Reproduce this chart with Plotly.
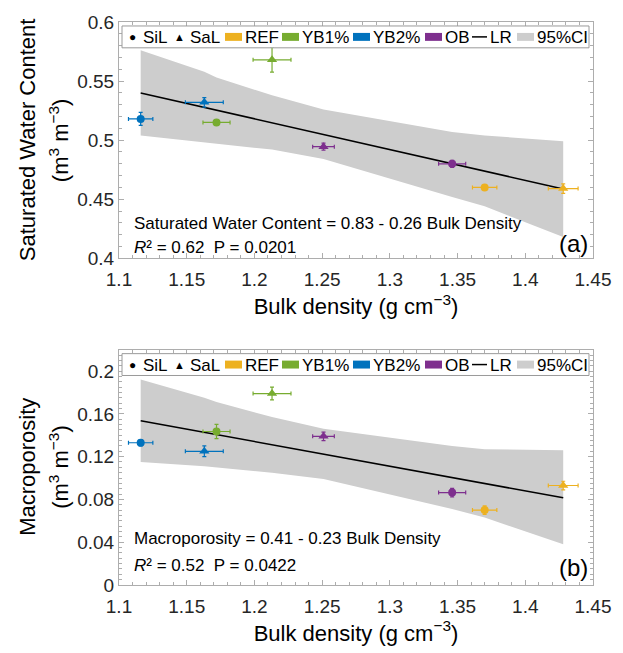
import plotly.graph_objects as go

# ---------------- data ----------------
treatments = ["REF", "YB1%", "YB2%", "OB"]
colors = ["#EDB120", "#77AC30", "#0072BD", "#7E2F8E"]

bd_sil = [1.370, 1.172, 1.116, 1.346]
bd_sil_err = [0.009, 0.010, 0.009, 0.010]
bd_sal = [1.428, 1.213, 1.163, 1.251]
bd_sal_err = [0.011, 0.014, 0.014, 0.008]

swc_sil = [0.460, 0.515, 0.518, 0.480]
swc_sil_err = [0.002, 0.0025, 0.0055, 0.003]
swc_sal = [0.459, 0.568, 0.532, 0.4945]
swc_sal_err = [0.004, 0.0105, 0.004, 0.003]

mac_sil = [0.070, 0.1435, 0.133, 0.0864]
mac_sil_err = [0.004, 0.0066, 0.003, 0.004]
mac_sal = [0.093, 0.179, 0.125, 0.139]
mac_sal_err = [0.004, 0.006, 0.005, 0.004]

lr_x = [1.116, 1.428]
lr_swc = [0.540, 0.4587]
lr_mac = [0.1535, 0.0815]

band_x = [1.116, 1.163, 1.172, 1.213, 1.251, 1.346, 1.370, 1.428]
swc_upper = [0.576, 0.558, 0.553, 0.538, 0.526, 0.507, 0.504, 0.499]
swc_lower = [0.504, 0.498, 0.497, 0.492, 0.484, 0.452, 0.444, 0.418]
mac_upper = [0.192, 0.175, 0.171, 0.157, 0.146, 0.130, 0.127, 0.126]
mac_lower = [0.115, 0.111, 0.110, 0.105, 0.099, 0.071, 0.063, 0.038]

x_ticks = [1.1, 1.15, 1.2, 1.25, 1.3, 1.35, 1.4, 1.45]
x_ticktext = ["1.1", "1.15", "1.2", "1.25", "1.3", "1.35", "1.4", "1.45"]
swc_ticks = [0.4, 0.45, 0.5, 0.55, 0.6]
swc_ticktext = ["0.4", "0.45", "0.5", "0.55", "0.6"]
mac_ticks = [0, 0.04, 0.08, 0.12, 0.16, 0.2]
mac_ticktext = ["0", "0.04", "0.08", "0.12", "0.16", "0.2"]

# ---------------- layout geometry ----------------
W, H = 623, 653
L, R, T, B = 119, 30, 19, 67
PW, PH = W - L - R, H - T - B
FONT = "Liberation Sans, Arial, Helvetica, sans-serif"
BAND = "#CDCDCD"
AXC = "#ADADAD"


def px(x):
    return (x - L) / PW


def py(y):
    return (H - B - y) / PH


top_dom = [py(257), py(19)]
bot_dom = [py(586), py(349)]

fig = go.Figure()


def add_panel(xa, ya, yv_sil, ye_sil, yv_sal, ye_sal, lr_y, up, lo):
    fig.add_trace(go.Scatter(
        x=band_x + band_x[::-1], y=up + lo[::-1], fill="toself",
        fillcolor=BAND, line=dict(width=0), mode="lines",
        xaxis=xa, yaxis=ya, showlegend=False, hoverinfo="skip"))
    fig.add_trace(go.Scatter(
        x=lr_x, y=lr_y, mode="lines", line=dict(color="black", width=1.5),
        xaxis=xa, yaxis=ya, showlegend=False))
    for i, t in enumerate(treatments):
        for xv, xe, yv, ye, sym in [
            (bd_sil, bd_sil_err, yv_sil, ye_sil, "circle"),
            (bd_sal, bd_sal_err, yv_sal, ye_sal, "triangle-up"),
        ]:
            fig.add_trace(go.Scatter(
                x=[xv[i]], y=[yv[i]], mode="markers",
                marker=dict(symbol=sym, size=8 if sym == "circle" else 9,
                            color=colors[i]),
                error_x=dict(type="data", array=[xe[i]], color=colors[i],
                             thickness=1.2, width=2),
                error_y=dict(type="data", array=[ye[i]], color=colors[i],
                             thickness=1.2, width=2),
                xaxis=xa, yaxis=ya, showlegend=False, name=t))


add_panel("x", "y", swc_sil, swc_sil_err, swc_sal, swc_sal_err, lr_swc,
          swc_upper, swc_lower)
add_panel("x2", "y2", mac_sil, mac_sil_err, mac_sal, mac_sal_err, lr_mac,
          mac_upper, mac_lower)

axis_common = dict(
    showline=True, linecolor=AXC, linewidth=1, mirror="ticks",
    ticks="inside", ticklen=5, tickcolor=AXC, showgrid=False, zeroline=False,
    tickfont=dict(family=FONT, size=19, color="#262626"),
)

xa = dict(axis_common, range=[1.1, 1.45], tickvals=x_ticks, ticktext=x_ticktext,
          ticklabelstandoff=4,
          minor=dict(ticks="inside", ticklen=3, dtick=0.01, tick0=1.1,
                     tickcolor=AXC, showgrid=False),
          title=dict(text="Bulk density (g cm<sup>−3</sup>)",
                     font=dict(family=FONT, size=22, color="black"),
                     standoff=9))

fig.update_layout(
    width=W, height=H, margin=dict(l=L, r=R, t=T, b=B),
    paper_bgcolor="white", plot_bgcolor="white", showlegend=False,
    xaxis=dict(xa, domain=[0, 1], anchor="y"),
    xaxis2=dict(xa, domain=[0, 1], anchor="y2"),
    yaxis=dict(axis_common, domain=top_dom, anchor="x", range=[0.4, 0.6],
               tickvals=swc_ticks, ticktext=swc_ticktext,
               minor=dict(ticks="inside", ticklen=3, dtick=0.01, tick0=0.4,
                          tickcolor=AXC, showgrid=False)),
    yaxis2=dict(axis_common, domain=bot_dom, anchor="x2", range=[0, 0.22],
                tickvals=mac_ticks, ticktext=mac_ticktext,
                minor=dict(ticks="inside", ticklen=3, dtick=0.005, tick0=0,
                           tickcolor=AXC, showgrid=False)),
)

ann = []
shapes = []


def text(x, y, s, size=17, xanchor="left", angle=0, color="black"):
    ann.append(dict(x=px(x), y=py(y), xref="paper", yref="paper", text=s,
                    showarrow=False, xanchor=xanchor, yanchor="middle",
                    textangle=angle,
                    font=dict(family=FONT, size=size, color=color)))


# y-axis titles
text(27, 138, "Saturated Water Content", 22, "center", -90)
text(59, 138, "(m<sup>3</sup> m<sup>−3</sup>)", 22, "center", -90)
text(28, 467, "Macroporosity", 22, "center", -90)
text(59, 467, "(m<sup>3</sup> m<sup>−3</sup>)", 22, "center", -90)

# equations
text(132, 222, "Saturated Water Content = 0.83 - 0.26 Bulk Density", 17)
text(132, 246, "<i>R</i>² = 0.62\u00a0\u00a0P = 0.0201", 17)
text(590, 242, "(a)", 24, "right")
text(132, 539, "Macroporosity = 0.41 - 0.23 Bulk Density", 17)
text(132, 566, "<i>R</i>² = 0.52\u00a0\u00a0P = 0.0422", 17)
text(590, 568, "(b)", 24, "right")

# legends (drawn inside each panel)
leg_labels = ["SiL", "SaL"] + treatments + ["LR", "95%CI"]
leg_colors = ["black", "black"] + colors + ["black", BAND]
leg_kinds = ["●", "▲", "rect", "rect", "rect", "rect", "line", "rect"]
leg_key_x = [132, 179, 225, 282, 353, 425, 472, 517]
leg_text_x = [141, 188, 243, 300, 371, 443, 488, 535]

for off in (0, 330):
    yc = 34 + off
    shapes.append(dict(type="rect", xref="paper", yref="paper",
                       x0=px(122), x1=px(589), y0=py(45 + off), y1=py(23 + off),
                       line=dict(color="#9A9A9A", width=1), fillcolor="white"))
    for kind, col, lab, kx, tx in zip(leg_kinds, leg_colors, leg_labels,
                                      leg_key_x, leg_text_x):
        if kind == "rect":
            shapes.append(dict(type="rect", xref="paper", yref="paper",
                               x0=px(kx), x1=px(kx + 17), y0=py(yc + 4),
                               y1=py(yc - 4), line=dict(width=0),
                               fillcolor=col))
        elif kind == "line":
            shapes.append(dict(type="line", xref="paper", yref="paper",
                               x0=px(kx), x1=px(kx + 15), y0=py(yc), y1=py(yc),
                               line=dict(color="black", width=1.5)))
        else:
            text(kx, yc, kind, 12 if kind == "●" else 11, "center")
        text(tx, yc + 0.5, lab, 17)

fig.update_layout(annotations=ann, shapes=shapes)
fig.write_html(
    "out.html",
    config={"displayModeBar": False},
    post_script="document.body.style.margin='0px';"
                "document.body.style.overflow='hidden';",
)
